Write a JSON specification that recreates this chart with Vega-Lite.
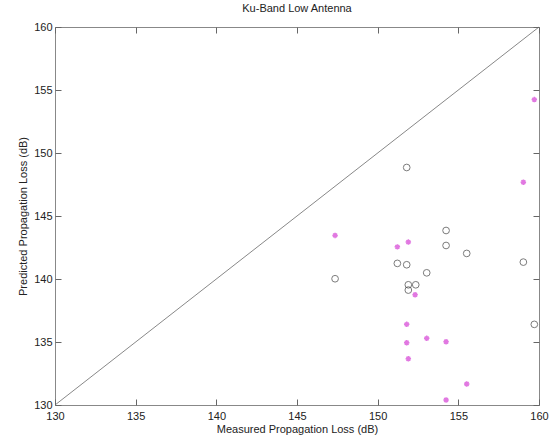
{
  "$schema": "https://vega.github.io/schema/vega-lite/v6.json",
  "width": 484,
  "height": 378,
  "autosize": "none",
  "padding": {"left": 55, "top": 27, "right": 12, "bottom": 34},
  "background": "white",
  "title": {"text": "Ku-Band Low Antenna", "fontSize": 11, "fontWeight": "normal", "font": "Liberation Sans", "color": "#222", "offset": 7},
  "config": {
    "view": {"stroke": "#888", "strokeWidth": 1},
    "axis": {"grid": false, "domain": false, "labelFlush": false, "labelOverlap": false, "labelFont": "Liberation Sans", "titleFont": "Liberation Sans", "labelFontSize": 11, "titleFontSize": 11, "titleFontWeight": "normal", "labelColor": "#222", "titleColor": "#222"}
  },
  "datasets": {
    "diag": [{"measured": 130, "predicted": 130}, {"measured": 160, "predicted": 160}],
    "pts": [
      {"measured": 151.8, "predicted": 148.85, "series": "circle"},
      {"measured": 154.24, "predicted": 143.85, "series": "circle"},
      {"measured": 154.24, "predicted": 142.66, "series": "circle"},
      {"measured": 155.52, "predicted": 142.03, "series": "circle"},
      {"measured": 151.22, "predicted": 141.24, "series": "circle"},
      {"measured": 151.8, "predicted": 141.13, "series": "circle"},
      {"measured": 153.04, "predicted": 140.49, "series": "circle"},
      {"measured": 159.03, "predicted": 141.34, "series": "circle"},
      {"measured": 147.36, "predicted": 140.02, "series": "circle"},
      {"measured": 151.9, "predicted": 139.54, "series": "circle"},
      {"measured": 152.36, "predicted": 139.54, "series": "circle"},
      {"measured": 151.9, "predicted": 139.12, "series": "circle"},
      {"measured": 159.71, "predicted": 136.4, "series": "circle"},
      {"measured": 159.03, "predicted": 147.68, "series": "star"},
      {"measured": 147.36, "predicted": 143.46, "series": "star"},
      {"measured": 151.22, "predicted": 142.55, "series": "star"},
      {"measured": 151.9, "predicted": 142.93, "series": "star"},
      {"measured": 152.32, "predicted": 138.75, "series": "star"},
      {"measured": 151.8, "predicted": 136.4, "series": "star"},
      {"measured": 151.8, "predicted": 134.94, "series": "star"},
      {"measured": 153.04, "predicted": 135.29, "series": "star"},
      {"measured": 154.24, "predicted": 135.02, "series": "star"},
      {"measured": 151.9, "predicted": 133.67, "series": "star"},
      {"measured": 155.52, "predicted": 131.67, "series": "star"},
      {"measured": 154.24, "predicted": 130.4, "series": "star"},
      {"measured": 159.71, "predicted": 154.24, "series": "star"}
    ]
  },
  "resolve": {"axis": {"x": "independent", "y": "independent"}},
  "layer": [
    {
      "data": {"name": "diag"},
      "mark": {"type": "line", "color": "#888", "strokeWidth": 1},
      "encoding": {
        "x": {"field": "measured", "type": "quantitative", "scale": {"domain": [130, 160], "nice": false, "zero": false}, "axis": {"orient": "bottom", "title": "Measured Propagation Loss (dB)", "values": [130, 135, 140, 145, 150, 155, 160], "ticks": true, "tickSize": -6, "tickColor": "#666", "tickWidth": 1, "zindex": 2, "labelPadding": 11, "titlePadding": 2}},
        "y": {"field": "predicted", "type": "quantitative", "scale": {"domain": [130, 160], "nice": false, "zero": false}, "axis": {"orient": "left", "title": "Predicted Propagation Loss (dB)", "values": [130, 135, 140, 145, 150, 155, 160], "ticks": true, "tickSize": -6, "tickColor": "#666", "tickWidth": 1, "zindex": 2, "labelPadding": 9, "titlePadding": 5}}
      }
    },
    {
      "data": {"name": "pts"},
      "transform": [{"filter": "datum.series === 'circle'"}],
      "mark": {"type": "point", "shape": "circle", "filled": false, "color": "#444", "size": 45, "strokeWidth": 1},
      "encoding": {
        "x": {"field": "measured", "type": "quantitative", "axis": {"orient": "top", "title": null, "labels": false, "ticks": true, "tickSize": -6, "tickColor": "#666", "tickWidth": 1, "zindex": 2, "values": [130, 135, 140, 145, 150, 155, 160]}},
        "y": {"field": "predicted", "type": "quantitative", "axis": {"orient": "right", "title": null, "labels": false, "ticks": true, "tickSize": -6, "tickColor": "#666", "tickWidth": 1, "zindex": 2, "values": [130, 135, 140, 145, 150, 155, 160]}}
      }
    },
    {
      "data": {"name": "pts"},
      "transform": [{"filter": "datum.series === 'star'"}],
      "mark": {"type": "point", "shape": "M-1,0L1,0M0,-1L0,1M-0.7,-0.7L0.7,0.7M-0.7,0.7L0.7,-0.7", "filled": false, "color": "#d540d5", "size": 30, "strokeWidth": 1.5},
      "encoding": {
        "x": {"field": "measured", "type": "quantitative", "axis": null},
        "y": {"field": "predicted", "type": "quantitative", "axis": null}
      }
    }
  ]
}
